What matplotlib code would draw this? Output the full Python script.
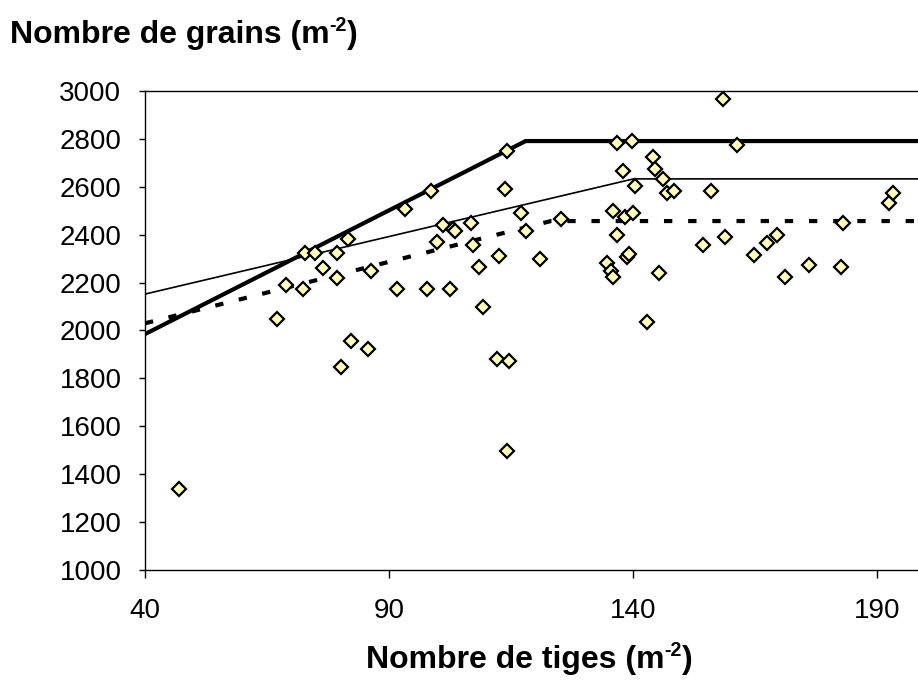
import numpy as np
import matplotlib
matplotlib.use("Agg")
import matplotlib.pyplot as plt

plt.rcParams['font.family'] = ['Liberation Sans', 'DejaVu Sans']

# observed points (tiges, grains)
tiges = [47.0, 67.1, 68.8, 72.4, 72.8, 74.9, 76.5, 79.3, 79.3, 80.2, 81.5, 82.3,
         85.6, 86.4, 91.7, 93.3, 97.8, 98.7, 99.9, 101.1, 102.4, 103.2, 103.5,
         106.9, 107.3, 108.5, 109.3, 112.1, 112.6, 113.8, 114.2, 114.2, 114.6,
         117.0, 118.0, 121.0, 125.2, 134.7, 135.4, 135.9, 136.0, 136.7, 136.7,
         138.0, 138.4, 138.7, 139.2, 139.7, 140.1, 140.5, 142.9, 144.1, 144.5,
         145.3, 146.2, 147.0, 148.3, 154.3, 156.0, 158.5, 158.9, 161.4, 164.7,
         167.5, 169.6, 171.2, 176.1, 182.7, 183.1, 192.5, 193.3]
grains = [1338, 2048, 2190, 2173, 2322, 2322, 2260, 2322, 2218, 1848, 2381, 1957,
          1923, 2248, 2173, 2506, 2173, 2582, 2368, 2442, 2173, 2422, 2415,
          2449, 2357, 2266, 2098, 1881, 2310, 2591, 2749, 1497, 1873,
          2492, 2415, 2299, 2466, 2282, 2248, 2500, 2223, 2784, 2399,
          2666, 2474, 2308, 2318, 2791, 2491, 2605, 2034, 2726, 2673,
          2240, 2633, 2573, 2582, 2356, 2582, 2965, 2390, 2775, 2317,
          2364, 2397, 2223, 2273, 2265, 2448, 2531, 2575]

# model lines (linear-plateau)
x_max = [40, 118, 200]
y_max = [1985, 2791, 2791]
x_moy = [40, 140.1, 200]
y_moy = [2152, 2633, 2633]
x_min = [40, 123.2, 200]
y_min = [2030, 2457, 2457]

W, H = 918, 686
fig = plt.figure(figsize=(W / 100, H / 100), dpi=100)
ax = fig.add_axes([145 / W, (H - 570) / H, 780.8 / W, (570 - 91) / H])

ax.plot(x_max, y_max, color='black', lw=3.0, solid_joinstyle='round')
ax.plot(x_moy, y_moy, color='black', lw=1.2)
ax.plot(x_min, y_min, color='black', lw=3.0, linestyle=(0, (2, 3.8)),
        dash_capstyle='butt')
ax.plot(tiges, grains, linestyle='none', marker='D', ms=7,
        mfc='#FFFFC0', mec='black', mew=1.6, zorder=5)

ax.set_xlim(40, 200)
ax.set_ylim(1000, 3000)
ax.set_xticks([40, 90, 140, 190])
ax.set_yticks(np.arange(1000, 3001, 200))
ax.spines['right'].set_visible(False)
for s in ['left', 'bottom', 'top']:
    ax.spines[s].set_linewidth(1.0)
ax.tick_params(axis='y', direction='out', length=4, width=1, labelsize=20, pad=13)
ax.tick_params(axis='x', direction='out', length=6, width=1, labelsize=20, pad=14)
ax.tick_params(top=False, right=False)


def label_sup(x_px, base_px, before, sup, after, size=20, rise=10):
    # text with a small raised "-2"
    r = fig.canvas.get_renderer()
    t1 = fig.text(x_px / W, 1 - base_px / H, before, fontsize=size,
                  fontweight='bold', va='baseline')
    b1 = t1.get_window_extent(r)
    t2 = fig.text(b1.x1 / W, 1 - (base_px - rise) / H, sup, fontsize=size * 0.62,
                  fontweight='bold', va='baseline')
    b2 = t2.get_window_extent(r)
    fig.text(b2.x1 / W, 1 - base_px / H, after, fontsize=size,
             fontweight='bold', va='baseline')
    return b1.x0, b2.x1


label_sup(10, 43, 'Nombre de grains (m', '-2', ')', size=23, rise=12)

# x label centred under the axis
r = fig.canvas.get_renderer()
tmp = fig.text(0, 0, 'Nombre de tiges (m-2)', fontsize=23, fontweight='bold')
wpx = tmp.get_window_extent(r).width
tmp.remove()
label_sup(535 - wpx / 2, 668, 'Nombre de tiges (m', '-2', ')', size=23, rise=12)

fig.savefig('out.png', dpi=100)
